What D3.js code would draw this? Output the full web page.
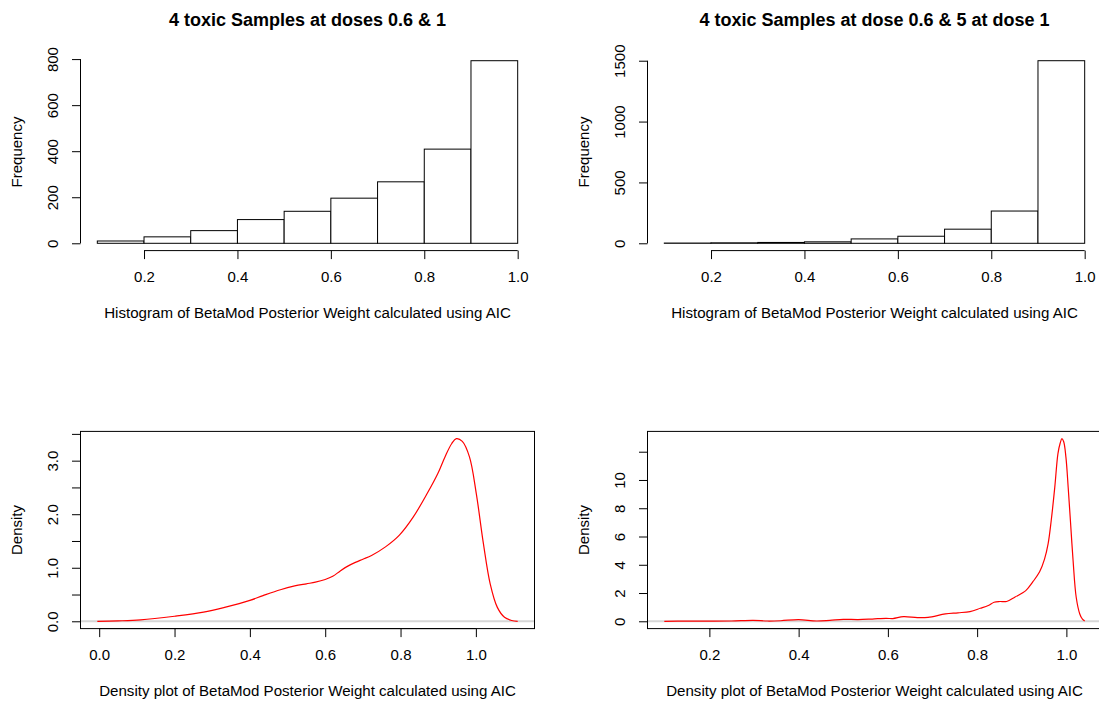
<!DOCTYPE html>
<html>
<head>
<meta charset="utf-8">
<script src="https://cdn.jsdelivr.net/npm/d3@7"></script>
<style>
  body { margin: 0; background: #fff; }
  svg text { font-family: "Liberation Sans", Arial, Helvetica, sans-serif; fill: #000; }
  .tick text { font-size: 15px; }
</style>
</head>
<body>
<script>
// histogram bins shared by both runs
var histBreaks = [0.1, 0.2, 0.3, 0.4, 0.5, 0.6, 0.7, 0.8, 0.9, 1.0];
var countsDoses = [10, 28, 55, 103, 139, 196, 267, 409, 793];
var countsDose5 = [2, 4, 7, 12, 36, 58, 116, 265, 1500];

// kernel density estimates (x, density)
var densDosesX = [-0.005, 0.05, 0.11, 0.2, 0.277, 0.333, 0.4, 0.435, 0.481, 0.519, 0.55, 0.574, 0.6, 0.62, 0.64, 0.66, 0.68, 0.70, 0.723, 0.76, 0.797, 0.834, 0.871, 0.899, 0.918, 0.936, 0.948, 0.964, 0.983, 1.001, 1.02, 1.038, 1.057, 1.076, 1.095, 1.111];
var densDosesY = [0, 0.008, 0.026, 0.094, 0.17, 0.26, 0.39, 0.48, 0.59, 0.66, 0.70, 0.73, 0.78, 0.84, 0.94, 1.03, 1.10, 1.16, 1.23, 1.39, 1.61, 1.95, 2.39, 2.76, 3.07, 3.32, 3.41, 3.36, 3.07, 2.39, 1.45, 0.70, 0.26, 0.075, 0.015, 0];
var densDose5X = [0.099, 0.15, 0.2, 0.25, 0.298, 0.33, 0.36, 0.40, 0.44, 0.47, 0.50, 0.533, 0.565, 0.596, 0.611, 0.635, 0.666, 0.69, 0.729, 0.757, 0.784, 0.807, 0.825, 0.838, 0.851, 0.866, 0.885, 0.909, 0.925, 0.94, 0.951, 0.959, 0.966, 0.974, 0.981, 0.986, 0.99, 0.994, 0.999, 1.004, 1.009, 1.015, 1.022, 1.03, 1.036, 1.041];
var densDose5Y = [0, 0.01, 0.01, 0.02, 0.07, 0.02, 0.04, 0.12, 0.02, 0.07, 0.14, 0.12, 0.16, 0.21, 0.19, 0.33, 0.26, 0.28, 0.52, 0.6, 0.69, 0.92, 1.12, 1.35, 1.40, 1.40, 1.72, 2.17, 2.8, 3.5, 4.4, 5.48, 7.13, 9.49, 11.85, 12.6, 12.92, 12.7, 11.6, 9.49, 7.13, 4.30, 1.70, 0.52, 0.15, 0.03];

// tick values
var histTicksX = [0.2, 0.4, 0.6, 0.8, 1.0];
var histTicksYDoses = [0, 200, 400, 600, 800];
var histTicksYDose5 = [0, 500, 1000, 1500];
var densTicksXDoses = [0, 0.2, 0.4, 0.6, 0.8, 1.0];
var densTicksXDose5 = [0.2, 0.4, 0.6, 0.8, 1.0];
var densTicksYDoses = [0, 0.5, 1, 1.5, 2, 2.5, 3, 3.5];
var densLabelsYDoses = [0, 1, 2, 3];
var densTicksYDose5 = [0, 2, 4, 6, 8, 10, 12];
var densLabelsYDose5 = [0, 2, 4, 6, 8, 10];

var titles = ["4 toxic Samples at doses 0.6 & 1", "4 toxic Samples at dose 0.6 & 5 at dose 1"];
var histLabel = "Histogram of BetaMod Posterior Weight calculated using AIC";
var densLabel = "Density plot of BetaMod Posterior Weight calculated using AIC";

var width = 1099, height = 704;
var cellW = 567, cellH = 378;
var margin = {top: 53.4, right: 32.5, bottom: 127.4, left: 80.5};
var tickLen = 8.5;

var svg = d3.select("body").append("svg")
  .attr("width", width)
  .attr("height", height);

// R-style axis range: data range padded by 4% each side
function padRange(lo, hi) {
  var d = (hi - lo) * 0.04;
  return [lo - d, hi + d];
}

function makePanel(col, row) {
  var g = svg.append("g").attr("transform", `translate(${col * cellW}, ${row * cellH})`);
  g.innerW = cellW - margin.left - margin.right;
  g.innerH = cellH - margin.top - margin.bottom;
  return g;
}

function drawAxes(g, x, y, xTicks, yTicks, yLabels, xFmt, yFmt) {
  var x0 = margin.left, y0 = margin.top + g.innerH;

  var xAxis = d3.axisBottom(x).tickValues(xTicks).tickSize(tickLen).tickSizeOuter(0).tickFormat(xFmt);
  var gx = g.append("g")
    .attr("class", "axis xAxis")
    .attr("transform", `translate(0, ${y0})`)
    .call(xAxis);
  gx.select(".domain").remove();
  gx.append("line")
    .attr("x1", x(xTicks[0])).attr("x2", x(xTicks[xTicks.length - 1]))
    .attr("stroke", "#000");
  gx.selectAll(".tick text").attr("y", 31.4).attr("dy", 0);

  var yAxis = d3.axisLeft(y).tickValues(yTicks).tickSize(tickLen).tickSizeOuter(0)
    .tickFormat(d => yLabels.indexOf(d) >= 0 ? yFmt(d) : "");
  var gy = g.append("g")
    .attr("class", "axis yAxis")
    .attr("transform", `translate(${x0}, 0)`)
    .call(yAxis);
  gy.select(".domain").remove();
  gy.append("line")
    .attr("y1", y(yTicks[0])).attr("y2", y(yTicks[yTicks.length - 1]))
    .attr("stroke", "#000");
  gy.selectAll(".tick text")
    .attr("transform", "rotate(-90)")
    .attr("x", 0).attr("y", -22.3).attr("dy", 0)
    .style("text-anchor", "middle");
  g.selectAll(".tick line").attr("stroke", "#000");
}

function drawLabels(g, title, xLab, yLab) {
  var cx = margin.left + g.innerW / 2;
  var cy = margin.top + g.innerH / 2;
  if (title) {
    g.append("text")
      .attr("x", cx).attr("y", 25.5)
      .style("text-anchor", "middle")
      .style("font-size", "18px")
      .style("font-weight", "bold")
      .text(title);
  }
  g.append("text")
    .attr("x", cx).attr("y", 318)
    .style("text-anchor", "middle")
    .style("font-size", "15.1px")
    .text(xLab);
  g.append("text")
    .attr("transform", `translate(22, ${cy}) rotate(-90)`)
    .style("text-anchor", "middle")
    .style("font-size", "15px")
    .text(yLab);
}

function drawHist(col, counts, yTicks, title) {
  var g = makePanel(col, 0);
  var x = d3.scaleLinear()
    .domain(padRange(histBreaks[0], histBreaks[histBreaks.length - 1]))
    .range([margin.left, margin.left + g.innerW]);
  var y = d3.scaleLinear()
    .domain(padRange(0, d3.max(counts)))
    .range([margin.top + g.innerH, margin.top]);

  var bins = counts.map((c, i) => ({x0: histBreaks[i], x1: histBreaks[i + 1], n: c}));

  g.selectAll("rect.bar")
    .data(bins)
    .enter()
    .append("rect")
    .attr("class", "bar")
    .attr("x", d => x(d.x0))
    .attr("width", d => x(d.x1) - x(d.x0))
    .attr("y", d => y(d.n))
    .attr("height", d => y(0) - y(d.n))
    .style("fill", "#fff")
    .style("stroke", "#000")
    .style("stroke-width", 1);

  drawAxes(g, x, y, histTicksX, yTicks, yTicks, d3.format(".1f"), d3.format("d"));
  drawLabels(g, title, histLabel, "Frequency");
}

function drawDensity(col, xs, ys, xTicks, yTicks, yLabels, yFmt) {
  var g = makePanel(col, 1);
  var x = d3.scaleLinear()
    .domain(padRange(d3.min(xs), d3.max(xs)))
    .range([margin.left, margin.left + g.innerW]);
  var y = d3.scaleLinear()
    .domain(padRange(0, d3.max(ys)))
    .range([margin.top + g.innerH, margin.top]);

  // zero reference line
  g.append("line")
    .attr("x1", margin.left).attr("x2", margin.left + g.innerW)
    .attr("y1", y(0)).attr("y2", y(0))
    .style("stroke", "#d6d6d6")
    .style("stroke-width", 2);

  var pts = xs.map((v, i) => [v, ys[i]]);
  g.append("path")
    .datum(pts)
    .attr("d", d3.line().x(d => x(d[0])).y(d => y(Math.max(0, d[1]))).curve(d3.curveCatmullRom.alpha(0.5)))
    .style("fill", "none")
    .style("stroke", "#ff0000")
    .style("stroke-width", 1.2);

  g.append("rect")
    .attr("x", margin.left).attr("y", margin.top)
    .attr("width", g.innerW).attr("height", g.innerH)
    .style("fill", "none")
    .style("stroke", "#000");

  drawAxes(g, x, y, xTicks, yTicks, yLabels, d3.format(".1f"), yFmt);
  drawLabels(g, null, densLabel, "Density");
}

drawHist(0, countsDoses, histTicksYDoses, titles[0]);
drawHist(1, countsDose5, histTicksYDose5, titles[1]);
drawDensity(0, densDosesX, densDosesY, densTicksXDoses, densTicksYDoses, densLabelsYDoses, d3.format(".1f"));
drawDensity(1, densDose5X, densDose5Y, densTicksXDose5, densTicksYDose5, densLabelsYDose5, d3.format("d"));
</script>
</body>
</html>
